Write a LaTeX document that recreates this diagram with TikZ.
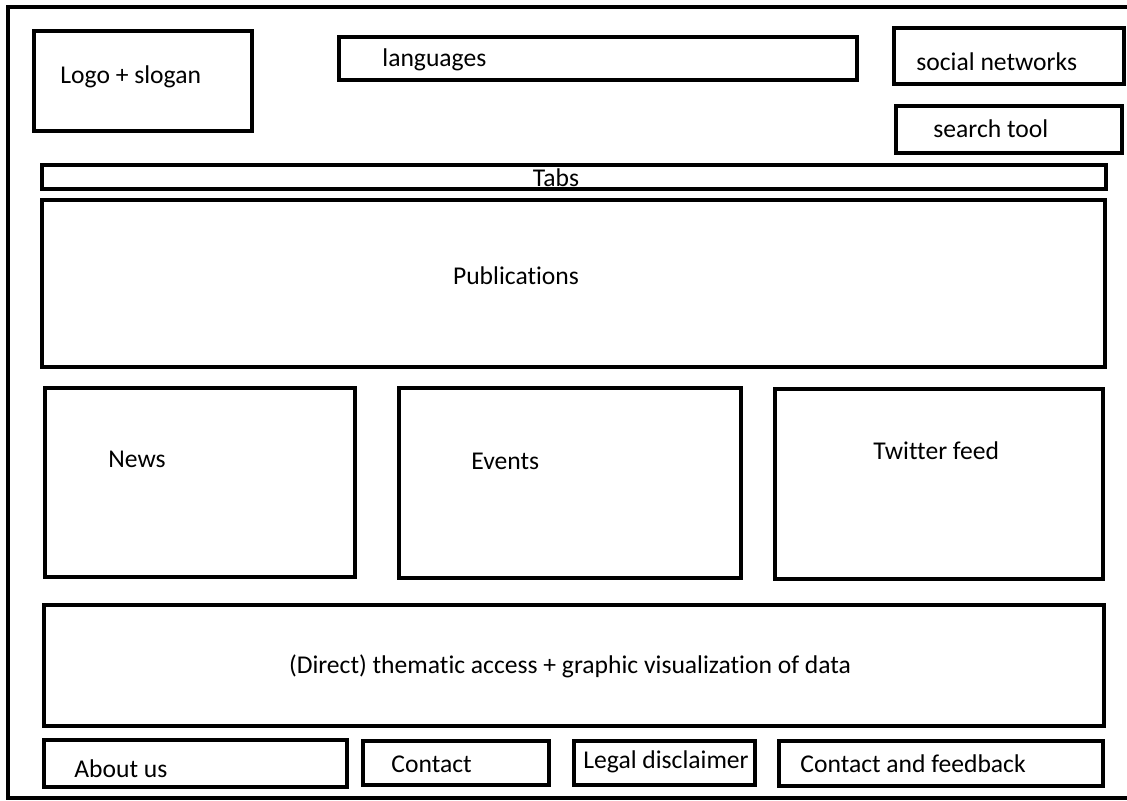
\documentclass[tikz,border=0pt]{standalone}
\usepackage{fontspec}
\setmainfont[Ligatures=NoCommon]{Carlito}
\usepackage{tikz}

\tikzset{
  blk/.style = {draw, line width=1.6pt},
  frm/.style = {draw, line width=1.6pt},
  txt/.style = {inner sep=0pt, font=\fontsize{12.8}{14}\selectfont}
}

\begin{document}
\begin{tikzpicture}[x=0.5pt, y=-0.5pt]
\useasboundingbox (0,0) rectangle (1127,801);
% outer page frame, cut off on the right
\draw[frm] (1127,7) -- (8,7) -- (8,798) -- (1127,798);
% header
\draw[blk] (34,31) rectangle (252,131);
\node[txt, anchor=west] (logo) at (60,77) {Logo + slogan};
\draw[blk] (339,37) rectangle (857,80);
\node[txt, anchor=west] (lang) at (382,60) {languages};
\draw[blk] (894,28) rectangle (1124,84);
\node[txt, anchor=west] (social) at (916,62) {social networks};
\draw[blk] (896,106) rectangle (1122,153);
\node[txt, anchor=west] (search) at (933,129) {search tool};
% tabs + main content
\draw[blk] (42,165) rectangle (1106,189);
\node[txt] (tabs) at (556,178) {Tabs};
\draw[blk] (42,200) rectangle (1105,367);
\node[txt] (pub) at (516,276) {Publications};
\draw[blk] (45,388) rectangle (355,577);
\node[txt, anchor=west] (news) at (108,459) {News};
\draw[blk] (399,388) rectangle (741,578);
\node[txt, anchor=west] (events) at (471,461) {Events};
\draw[blk] (775,389) rectangle (1103,579);
\node[txt, anchor=west] (twitter) at (873,451) {Twitter feed};
\draw[blk] (44,605) rectangle (1104,726);
\node[txt] (access) at (570,666) {(Direct) thematic access + graphic visualization of data};
% footer
\draw[blk] (44,740) rectangle (347,787);
\node[txt, anchor=west] (about) at (74,769) {About us};
\draw[blk] (363,741) rectangle (549,785);
\node[txt, anchor=west] (contact) at (391,764) {Contact};
\draw[blk] (574,741) rectangle (755,785);
\node[txt, anchor=west] (legal) at (583,762) {Legal disclaimer};
\draw[blk] (779,741) rectangle (1103,786);
\node[txt, anchor=west] (feedback) at (800,764) {Contact and feedback};
\end{tikzpicture}
\end{document}
